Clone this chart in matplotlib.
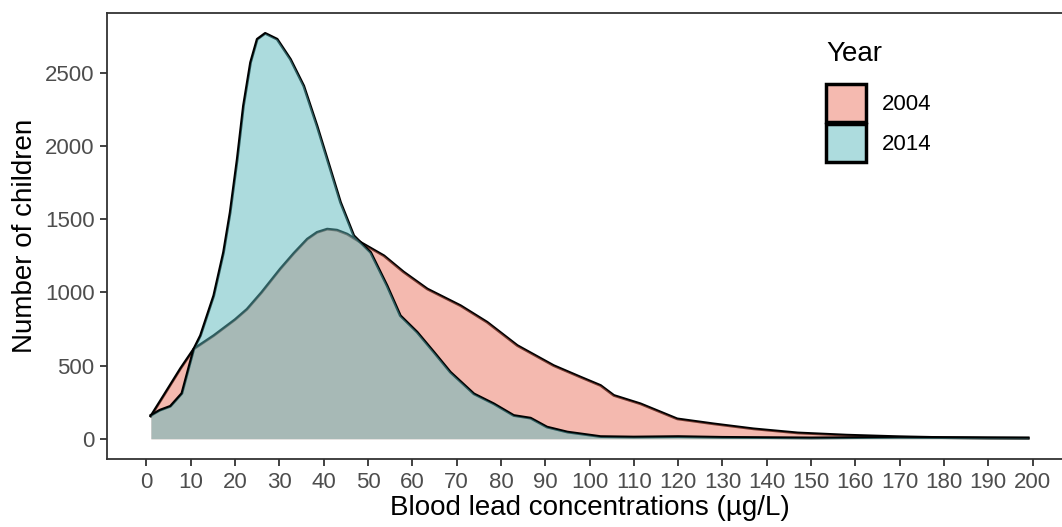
import matplotlib
matplotlib.use("Agg")
import matplotlib.pyplot as plt
from matplotlib.patches import Patch
import numpy as np

plt.rcParams['font.family'] = ['Liberation Sans', 'DejaVu Sans']

# blood lead (ug/L) vs number of children
x_2004 = [1, 4, 7.7, 10.7, 15.2, 20, 22.7, 26, 30.2, 33.3, 36.3, 38.5, 40.8, 43,
          45.3, 48.3, 53.6, 58, 63.4, 70.9, 76.9, 83.7, 91.9, 98, 102.5, 105.5,
          111.5, 119.8, 128, 137, 147, 158, 170, 180, 190, 199]
y_2004 = [155, 300, 480, 614, 705, 814, 885, 1000, 1160, 1268, 1364, 1410, 1432,
          1425, 1398, 1342, 1250, 1140, 1023, 909, 796, 637, 500, 421, 364, 296,
          239, 136, 102, 68, 40, 25, 14, 8, 6, 5]

x_2014 = [1, 3, 5.4, 8, 10.7, 12.2, 15.2, 17.4, 18.9, 20.5, 21.9, 23.5, 25, 26.8,
          29.5, 32.5, 35.5, 38.5, 41.5, 43.8, 46.8, 50.6, 54.3, 57.3, 61.1, 64.9,
          68.6, 73.9, 78.4, 82.9, 86.7, 90.4, 95, 102.5, 110, 120, 130, 140, 150,
          160, 170, 180, 190, 199]
y_2014 = [160, 195, 222, 310, 614, 705, 978, 1273, 1546, 1910, 2274, 2570, 2729,
          2769, 2729, 2592, 2410, 2137, 1842, 1615, 1387, 1273, 1046, 841, 728, 591,
          455, 307, 239, 159, 141, 80, 46, 15, 12, 15, 10, 8, 6, 8, 10, 8, 6, 5]

years = ["2004", "2014"]
colors = ["#EB7561", "#5BB9BD"]
alphas = [0.5, 0.5]

fig = plt.figure(figsize=(10.62, 5.27), dpi=100)
ax = fig.add_axes([107 / 1062, 68 / 527, 965 / 1062, 446 / 527])

for xs, ys, c, a in [(x_2004, y_2004, colors[0], alphas[0]),
                     (x_2014, y_2014, colors[1], alphas[1])]:
    ax.plot(xs, ys, color="black", lw=2.0, solid_joinstyle="round", zorder=2)
    ax.fill_between(xs, 0, ys, color=c, alpha=a, lw=0, zorder=2)

ax.set_xlim(-8.9, 208.9)
ax.set_ylim(-138, 2908)
ax.set_xticks(np.arange(0, 201, 10))
ax.set_yticks([0, 500, 1000, 1500, 2000, 2500])
ax.tick_params(axis="both", labelsize=16, labelcolor="#4D4D4D", color="#333333",
               width=1.3, length=5, pad=4)
for s in ax.spines.values():
    s.set_color("#333333")
    s.set_linewidth(1.3)

ax.set_xlabel("Blood lead concentrations (µg/L)", fontsize=20, labelpad=2)
ax.set_ylabel("Number of children", fontsize=20, labelpad=5)

handles = [Patch(facecolor=c, edgecolor="black", lw=2.5)
           for c in ["#F5BAB0", "#ADDCDE"]]
leg = ax.legend(handles, years, title="Year", loc="upper left",
                bbox_to_anchor=(806 / 1062, 1 - 21 / 527),
                bbox_transform=fig.transFigure, frameon=False, fontsize=16,
                title_fontsize=20, handlelength=1.8, handleheight=2.25,
                labelspacing=0.12, handletextpad=0.7, alignment="left")
leg._legend_box.sep = 12

fig.savefig("out.png", dpi=100)
